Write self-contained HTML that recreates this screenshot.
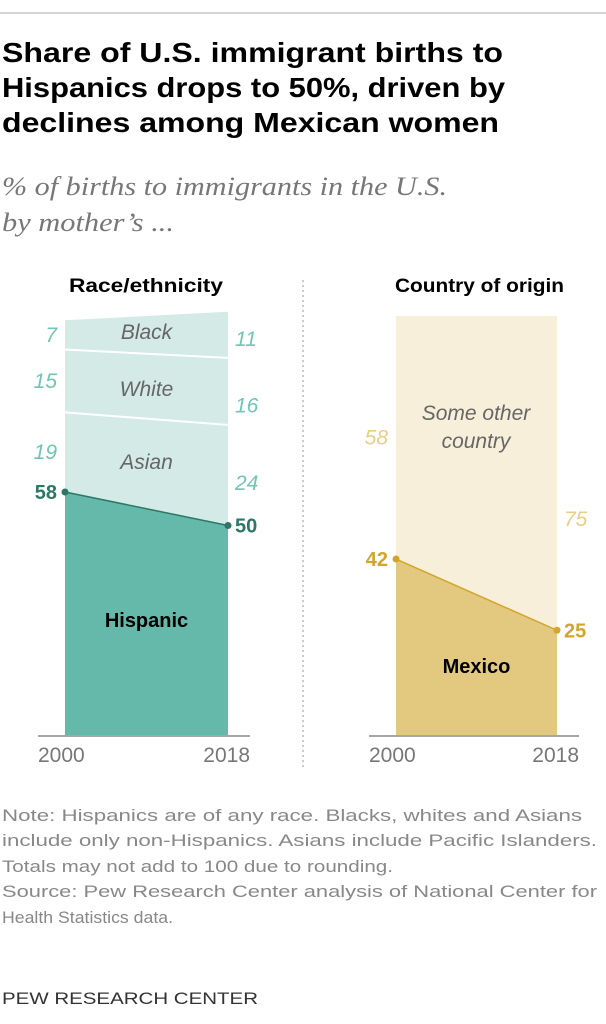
<!DOCTYPE html>
<html><head><meta charset="utf-8"><style>
body{margin:0;background:#fff;width:606px;height:1024px;overflow:hidden;font-family:"Liberation Sans",sans-serif}
svg{display:block}
</style></head><body>
<svg width="606" height="1024">
<line x1="0" y1="13" x2="606" y2="13" stroke="#aaa" stroke-width="1"/>
<g font-weight="bold" font-size="28" fill="#000">
<text x="2" y="62" textLength="501" lengthAdjust="spacingAndGlyphs">Share of U.S. immigrant births to</text>
<text x="2" y="97" textLength="503" lengthAdjust="spacingAndGlyphs">Hispanics drops to 50%, driven by</text>
<text x="2" y="132" textLength="497" lengthAdjust="spacingAndGlyphs">declines among Mexican women</text>
</g>
<g font-family="Liberation Serif,serif" font-style="italic" font-size="26" fill="#777">
<text x="2" y="195" textLength="445" lengthAdjust="spacingAndGlyphs">% of births to immigrants in the U.S.</text>
<text x="2" y="231" textLength="172" lengthAdjust="spacingAndGlyphs">by mother’s ...</text>
</g>
<text x="69" y="292" font-weight="bold" font-size="19" textLength="154" lengthAdjust="spacingAndGlyphs">Race/ethnicity</text>
<text x="395" y="292" font-weight="bold" font-size="19" textLength="169" lengthAdjust="spacingAndGlyphs">Country of origin</text>
<line x1="303" y1="280" x2="303" y2="770" stroke="#999" stroke-dasharray="2,3"/>
<g id="left"></g><g id="right"></g>
<g font-size="17" fill="#888">
<text x="2" y="821" textLength="580" lengthAdjust="spacingAndGlyphs">Note: Hispanics are of any race. Blacks, whites and Asians</text>
<text x="2" y="846" textLength="595" lengthAdjust="spacingAndGlyphs">include only non-Hispanics. Asians include Pacific Islanders.</text>
<text x="2" y="872" textLength="391" lengthAdjust="spacingAndGlyphs">Totals may not add to 100 due to rounding.</text>
<text x="2" y="897" textLength="595" lengthAdjust="spacingAndGlyphs">Source: Pew Research Center analysis of National Center for</text>
<text x="2" y="923" textLength="171" lengthAdjust="spacingAndGlyphs">Health Statistics data.</text>
</g>
<text x="2" y="1004" font-size="17" fill="#333" textLength="256" lengthAdjust="spacingAndGlyphs">PEW RESEARCH CENTER</text>
</svg>
<script>
const years=["2000","2018"];
const raceCats=["Hispanic","Asian","White","Black"];
const race2000=[58,19,15,7];
const race2018=[50,24,16,11];
const originCats=["Mexico","Some other country"];
const origin2000=[42,58];
const origin2018=[25,75];
const NS="http://www.w3.org/2000/svg";
const base=735,sc=4.19;
function y(v){return base-v*sc;}
function mk(parent,tag,attrs,text){const e=document.createElementNS(NS,tag);for(const k in attrs)e.setAttribute(k,attrs[k]);if(text!==undefined)e.textContent=text;parent.appendChild(e);return e;}
function panel(g,x0,x1,cats,a,b,fills,dark,light,labels,offB){
  let ca=0,cb=0;
  const bounds=[];
  for(let i=0;i<cats.length;i++){
    const ya0=y(ca),yb0=y(cb);ca+=a[i];cb+=b[i];
    const ya1=y(ca),yb1=y(cb);
    const p=mk(g,"polygon",{points:`${x0},${ya0} ${x1},${yb0} ${x1},${yb1} ${x0},${ya1}`,fill:fills[i]});
    
    
    bounds.push([ya0,ya1,yb0,yb1]);
  }
  for(let i=2;i<cats.length;i++){
    const l=mk(g,"line",{x1:x0,y1:bounds[i][0],x2:x1,y2:bounds[i][2],stroke:"#fff","stroke-width":2});
    
    
  }
  const ln=mk(g,"line",{x1:x0,y1:y(a[0]),x2:x1,y2:y(b[0]),stroke:dark,"stroke-width":1.5});
  
  
  [[x0,y(a[0])],[x1,y(b[0])]].forEach(([cx,cy])=>{const c=mk(g,"circle",{cx:cx,cy:cy,r:3.5,fill:dark});
  
  });
  for(let i=0;i<cats.length;i++){
    const bold=i===0;
    const la=mk(g,"text",{x:x0-8,y:(i===0?y(a[0]):(bounds[i][0]+bounds[i][1])/2)+7,"text-anchor":"end","font-size":bold?20:21,"font-weight":bold?"bold":"normal","font-style":bold?"normal":"italic",fill:bold?dark:light},a[i]);
    
    
    const lb=mk(g,"text",{x:x1+7,y:(i===0?y(b[0]):(bounds[i][2]+bounds[i][3])/2)+7+(i>0?offB[i]:0),"font-size":bold?20:21,"font-weight":bold?"bold":"normal","font-style":bold?"normal":"italic",fill:bold?dark:light},b[i]);
    
    
  }
  labels.forEach(([txt,ly,bold])=>{const t=mk(g,"text",{x:(x0+x1)/2,y:ly,"text-anchor":"middle","font-size":bold?20:21,"font-weight":bold?"bold":"normal","font-style":bold?"normal":"italic",fill:bold?"#000":"#666"},txt);
  
  });
  const ax=mk(g,"line",{x1:x0-27,y1:base+1,x2:x1+22,y2:base+1,stroke:"#888","stroke-width":1.5});
  
  
  const t1=mk(g,"text",{x:x0-27,y:762,"font-size":21,fill:"#777"},years[0]);
  
  
  const t2=mk(g,"text",{x:x1+22,y:762,"text-anchor":"end","font-size":21,fill:"#777"},years[1]);
  
  
}
panel(document.getElementById('left'),65,228,raceCats,race2000,race2018,["#65b9ab","#d3eae6","#d3eae6","#d3eae6"],"#2e7767","#72c4b4",
 [["Hispanic",627,true],["Asian",469,false],["White",396,false],["Black",339,false]],[0,8,14,4]);
panel(document.getElementById('right'),396,557,originCats,origin2000,origin2018,["#e2c97f","#f7efd9"],"#d2a52b","#e8cf83",
 [["Mexico",673,true],["Some other country",0,false]],[0,46]);
const so=[...document.querySelectorAll('#right text')].find(t=>t.textContent==="Some other country");
so.textContent="";
mk(so,"tspan",{x:476,y:420},"Some other");
mk(so,"tspan",{x:476,y:448},"country");
</script>
</body></html>
